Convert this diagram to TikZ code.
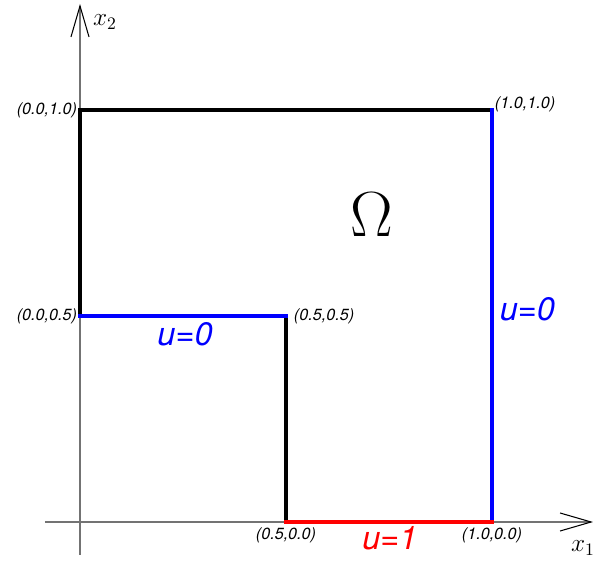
\documentclass[tikz,border=0pt]{standalone}
\usepackage{fontspec}
\setsansfont{TeX Gyre Heros}
\usetikzlibrary{arrows.meta}

\begin{document}
\begin{tikzpicture}[
  x=8.24cm, y=8.24cm,
  axis/.style={draw=black!55, line width=0.9pt, -{Straight Barb[length=6.2mm, width=3.6mm, line width=0.6pt, black]}},
  edge/.style={line width=1.8pt, line cap=rect},
  pt/.style={font=\sffamily\itshape\fontsize{9.2}{10}\selectfont, inner sep=1.5pt},
  bc/.style={font=\sffamily\itshape\fontsize{18.5}{19}\selectfont, inner sep=1pt}
]
\useasboundingbox (-1.6cm,-0.78cm) rectangle (10.28cm,10.44cm);
% axes
\coordinate (xs) at (-0.7cm,0);
\coordinate (xe) at (10.26cm,0);
\coordinate (ys) at (0,-0.66cm);
\coordinate (ye) at (0,10.36cm);
\draw[axis] (xs) -- (xe);
\draw[axis] (ys) -- (ye);
\node (x1) at (10.06cm,-0.52cm) {\Large $x_1$};
\node (x2) at (0.5cm,10.0cm) {\Large $x_2$};
% corners of the domain
\coordinate (a) at (0.5,0);
\coordinate (b) at (1,0);
\coordinate (c) at (1,1);
\coordinate (d) at (0,1);
\coordinate (e) at (0,0.5);
\coordinate (f) at (0.5,0.5);
\draw[edge] (e) -- (d) -- (c);
\draw[edge] (a) -- (f);
\draw[edge, blue] (c) -- (b);
\draw[edge, blue] (f) -- (e);
\draw[edge, red] (b) -- (a);
% corner labels
\node[pt, anchor=east] (ld) at (d) {(0.0,1.0)};
\node[pt, anchor=west] (lc) at ([yshift=0.12cm]c) {(1.0,1.0)};
\node[pt, anchor=east] (le) at (e) {(0.0,0.5)};
\node[pt, anchor=west] (lf) at ([xshift=0.1cm]f) {(0.5,0.5)};
\node[pt, anchor=north] (la) at ([yshift=-0.06cm]a) {(0.5,0.0)};
\node[pt, anchor=north] (lb) at ([yshift=-0.06cm]b) {(1.0,0.0)};
% boundary conditions
\node[bc, red] (u1) at (0.752,-0.04) {u=1};
\node[bc, blue] (u0a) at (0.255,0.456) {u=0};
\node[bc, blue] (u0b) at (1.086,0.517) {u=0};
\node[scale=2.1] (om) at (0.709,0.747) {\LARGE$\Omega$};
\end{tikzpicture}
\end{document}
